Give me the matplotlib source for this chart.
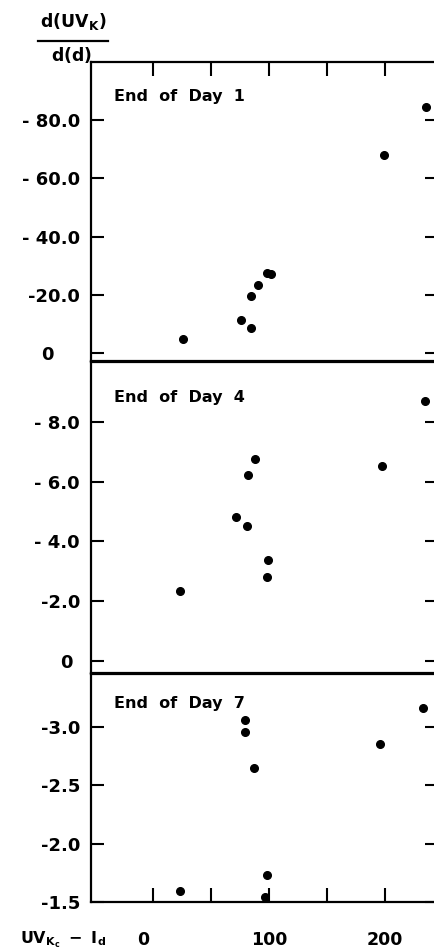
import matplotlib.pyplot as plt
from matplotlib.lines import Line2D

plt.rcParams['font.family'] = ['DejaVu Sans']
plt.rcParams['font.weight'] = 'bold'
plt.rcParams['mathtext.fontset'] = 'dejavusans'

# End of Day 1
x_day1 = [25.7, 75.8, 84.0, 84.7, 90.5, 98.0, 101.8, 199.7, 236.0]
y_day1 = [-4.7, -11.4, -8.7, -19.4, -23.4, -27.5, -27.1, -67.9, -84.7]
# End of Day 4
x_day4 = [22.6, 71.5, 80.9, 81.8, 87.5, 99.0, 97.8, 198.0, 235.0]
y_day4 = [-2.33, -4.81, -4.53, -6.23, -6.74, -3.38, -2.80, -6.52, -8.68]
# End of Day 7
x_day7 = [22.8, 79.0, 78.8, 86.6, 98.4, 96.1, 196.0, 232.6]
y_day7 = [-1.59, -3.06, -2.95, -2.65, -1.73, -1.54, -2.85, -3.16]

xticks = [0, 50, 100, 150, 200]
xtick_labels = ["0   ", "", "100", "", "200"]

yticks1 = [-80, -60, -40, -20, 0]
ylabels1 = ["- 80.0", "- 60.0", "- 40.0", "-20.0", "0    "]
yticks2 = [-8, -6, -4, -2, 0]
ylabels2 = ["- 8.0", "- 6.0", "- 4.0", "-2.0", "0 "]
yticks3 = [-3.0, -2.5, -2.0, -1.5]
ylabels3 = ["-3.0", "-2.5", "-2.0", "-1.5"]

titles = ["End  of  Day  1", "End  of  Day  4", "End  of  Day  7"]

fig = plt.figure(figsize=(4.34, 9.49), dpi=100)
left, width = 91 / 434, (438 - 91) / 434
ax1 = fig.add_axes([left, 1 - 361 / 949, width, 299 / 949])
ax2 = fig.add_axes([left, 1 - 673 / 949, width, 311 / 949])
ax3 = fig.add_axes([left, 1 - 902 / 949, width, 228 / 949])

panels = [
    (ax1, x_day1, y_day1, yticks1, ylabels1, (2.8, -100)),
    (ax2, x_day4, y_day4, yticks2, ylabels2, (0.4, -10)),
    (ax3, x_day7, y_day7, yticks3, ylabels3, (-1.5, -3.45)),
]

for i, (ax, xs, ys, yt, yl, ylim) in enumerate(panels):
    ax.plot(xs, ys, 'o', color='black', ms=5.5, clip_on=False)
    ax.set_xlim(-54, 246)
    ax.set_ylim(*ylim)
    ax.set_yticks(yt, labels=yl)
    for s in ax.spines.values():
        s.set_linewidth(1.6)
    ax.tick_params(axis='y', direction='in', length=9.5, width=1.5,
                   labelsize=13, pad=8, left=True, right=True)
    ax.set_xticks(xticks, labels=xtick_labels)
    ax.tick_params(axis='x', direction='in', length=10, width=1.5,
                   labelsize=12.5, pad=21, top=(i == 0), bottom=(i == 2),
                   labelbottom=(i == 2))
    ax.text(0.065, 0.885 if i < 2 else 0.87, titles[i],
            transform=ax.transAxes, fontsize=11.5, fontweight='bold',
            va='center', ha='left')

# y-axis label as a fraction
fig.text(73 / 434, 1 - 22 / 949, r'$\mathbf{d(UV_K)}$', ha='center',
         va='center', fontsize=12.5)
fig.add_artist(Line2D([38 / 434, 108 / 434], [1 - 41 / 949, 1 - 41 / 949],
                      color='black', lw=1.6, transform=fig.transFigure))
fig.text(72 / 434, 1 - 55 / 949, r'$\mathbf{d(d)}$', ha='center',
         va='center', fontsize=12.5)

# x-axis label
fig.text(20 / 434, 1 - 929 / 949, r'$\mathbf{UV_{K_c}\ -\ I_d}$', ha='left',
         va='top', fontsize=11.5)

fig.savefig("out.png", dpi=100)
